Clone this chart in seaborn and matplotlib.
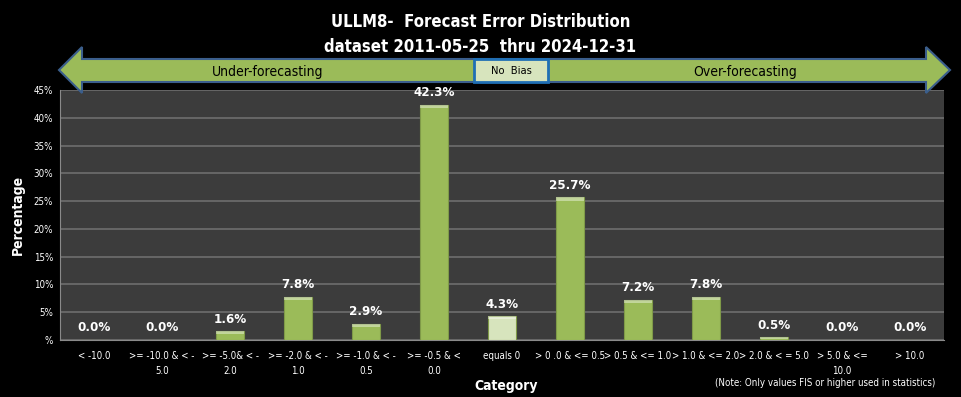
import matplotlib
matplotlib.use("Agg")
import matplotlib.pyplot as plt
import seaborn as sns
import pandas as pd
from matplotlib.patches import Polygon, Rectangle
from matplotlib.ticker import FuncFormatter, MultipleLocator

categories = ["< -10.0", ">= -10.0 & < -\n5.0", ">= -5.0& < -\n2.0", ">= -2.0 & < -\n1.0",
              ">= -1.0 & < -\n0.5", ">= -0.5 & <\n0.0", "equals 0", "> 0 .0 & <= 0.5",
              "> 0.5 & <= 1.0", "> 1.0 & <= 2.0", "> 2.0 & < = 5.0", "> 5.0 & <=\n10.0", "> 10.0"]
percentages = [0.0, 0.0, 1.6, 7.8, 2.9, 42.3, 4.3, 25.7, 7.2, 7.8, 0.5, 0.0, 0.0]
title_lines = ["ULLM8-  Forecast Error Distribution", "dataset 2011-05-25  thru 2024-12-31"]

GREEN = "#9BBB59"
LIGHT = "#D7E4BD"
colors = [LIGHT if c == "equals 0" else GREEN for c in categories]

sns.set_style("dark")
plt.rcParams['font.family'] = ['DejaVu Sans']
plt.rcParams['font.stretch'] = 'condensed'

fig = plt.figure(figsize=(9.61, 3.97), dpi=100, facecolor="black")
ax = fig.add_axes([60/961, 57/397, 884/961, 250/397])
ax.set_facecolor("#3C3C3C")

df = pd.DataFrame({"cat": categories, "pct": percentages})
sns.barplot(data=df, x="cat", y="pct", hue="cat", palette=colors, legend=False, saturation=1,
            width=0.4, ax=ax, edgecolor="#7F9A48", linewidth=0.8, zorder=3)

for p in list(ax.patches):
    h = p.get_height()
    if h > 0:
        hl = min(0.6, h * 0.5)
        ax.add_patch(Rectangle((p.get_x(), h - hl), p.get_width(), hl,
                               facecolor="white", alpha=0.4, linewidth=0, zorder=4))
    ax.text(p.get_x() + p.get_width() / 2, h + 1.0, f"{h:.1f}%", ha="center", va="bottom",
            color="white", fontsize=9.5, fontweight="bold", zorder=5)

ax.set_ylim(0, 45)
ax.set_xlim(-0.5, len(categories) - 0.5)
ax.yaxis.set_major_locator(MultipleLocator(5))
ax.yaxis.set_major_formatter(FuncFormatter(lambda v, _: "%" if v == 0 else f"{v:.0f}%"))
ax.grid(axis="y", color="#6E6E6E", linewidth=1.2, zorder=0)
ax.grid(axis="x", visible=False)
ax.set_axisbelow(True)
for s in ["top", "right"]:
    ax.spines[s].set_visible(False)
ax.spines["left"].set_color("#8A8A8A")
ax.spines["bottom"].set_color("#8A8A8A")
ax.tick_params(axis="y", colors="white", labelsize=7, length=4, color="#8A8A8A", pad=1)
ax.tick_params(axis="x", colors="white", labelsize=7, length=0, pad=8)
ax.set_xticks([i - 0.5 for i in range(len(categories) + 1)], minor=True)
ax.tick_params(axis="x", which="minor", length=4, color="#8A8A8A")
for lab in ax.get_xticklabels():
    lab.set_linespacing(1.6)
ax.set_xlabel("Category", color="white", fontsize=10, fontweight="bold", labelpad=6)
ax.set_ylabel("Percentage", color="white", fontsize=10, fontweight="bold", labelpad=6)
ax.xaxis.set_label_coords(0.505, -0.155)

fig.text(0.859, 0.036, "(Note: Only values FIS or higher used in statistics)", color="white",
         fontsize=7, ha="center", va="center")

fig.text(0.5, 1 - 22/397, title_lines[0], color="white", fontsize=12, fontweight="bold",
         ha="center", va="center")
fig.text(0.5, 1 - 47/397, title_lines[1], color="white", fontsize=12, fontweight="bold",
         ha="center", va="center")

W, H = 961, 397
def P(x, y):
    return (x / W, 1 - y / H)
tip_y = 70
arrow = [P(59, tip_y), P(82, 47), P(82, 59), P(880, 59), P(926, 59), P(926, 47), P(950, tip_y),
         P(926, 93), P(926, 82), P(82, 82), P(82, 93)]
fig.patches.append(Polygon(arrow, closed=True, transform=fig.transFigure, facecolor=GREEN,
                           edgecolor="#3B5E8C", linewidth=1.5, zorder=1))
fig.patches.append(Rectangle(P(474, 82), 74 / W, 23 / H, transform=fig.transFigure,
                             facecolor=LIGHT, edgecolor="#1F6FB5", linewidth=2, zorder=2))
fig.text(511 / W, 1 - 71 / H, "No  Bias", color="black", fontsize=8, ha="center", va="center")
fig.text(268 / W, 1 - 72 / H, "Under-forecasting", color="black", fontsize=10, ha="center", va="center")
fig.text(745 / W, 1 - 72 / H, "Over-forecasting", color="black", fontsize=10, ha="center", va="center")

fig.savefig("out.png", dpi=100, facecolor="black")
